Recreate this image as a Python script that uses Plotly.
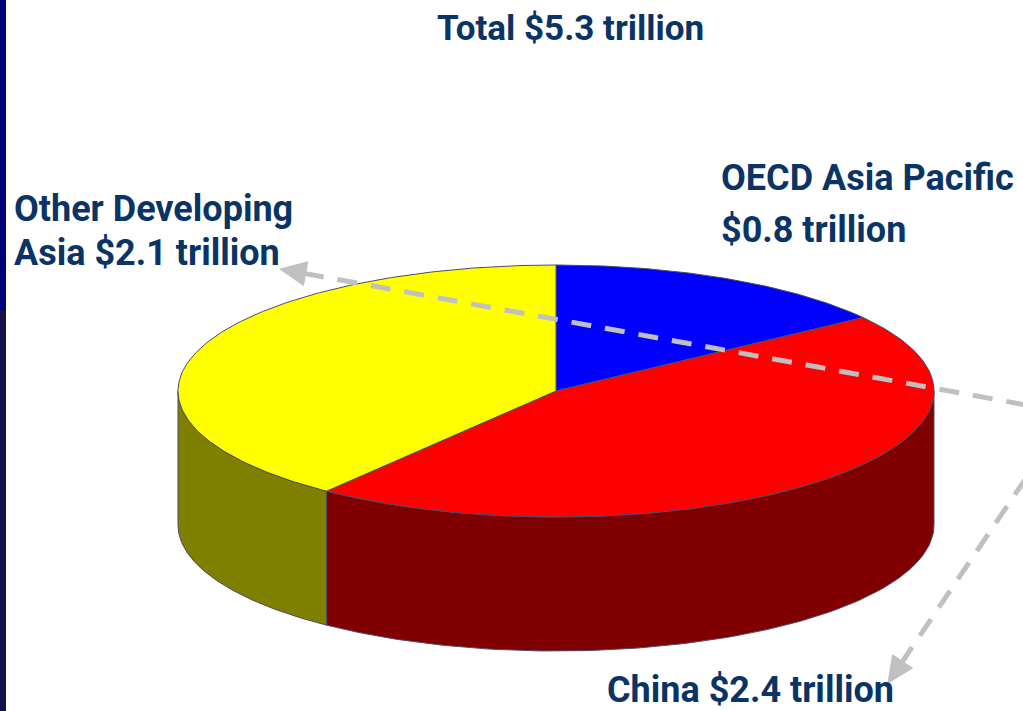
import numpy as np
import plotly.graph_objects as go

# Regional totals (trillion USD)
regions = ["OECD Asia Pacific", "China", "Other Developing Asia"]
values = [0.8, 2.4, 2.1]
total_label = "Total $5.3 trillion"

top_colors = ["#0000FF", "#FF0000", "#FFFF00"]
side_colors = ["#000080", "#800000", "#808000"]

W, H = 1023, 711
# Pie geometry in page pixels (y grows downward)
cx, cy = 556, 391
rx, ry = 378, 126
depth = 134
edge = "#4b4b6b"
text_color = "#0a3366"
font_family = "Roboto, Liberation Sans, Arial"


def pt(theta_deg, dy=0.0):
    t = np.radians(theta_deg)
    return cx + rx * np.sin(t), cy - ry * np.cos(t) + dy


fig = go.Figure()

fracs = np.array(values) / sum(values)
bounds = np.concatenate([[0], np.cumsum(fracs) * 360])

# Side walls (only the front half, 90..270 deg, is visible)
for i in range(len(values)):
    a0, a1 = max(bounds[i], 90), min(bounds[i + 1], 270)
    if a1 <= a0:
        continue
    th = np.linspace(a0, a1, 120)
    xs_top, ys_top = pt(th)
    xs_bot, ys_bot = pt(th[::-1], depth)
    xs = np.concatenate([xs_top, xs_bot, [xs_top[0]]])
    ys = np.concatenate([ys_top, ys_bot, [ys_top[0]]])
    fig.add_trace(go.Scatter(x=xs, y=ys, mode="lines", fill="toself",
                             fillcolor=side_colors[i],
                             line=dict(color=edge, width=1),
                             hoverinfo="skip", showlegend=False))

# Top face slices
for i in range(len(values)):
    th = np.linspace(bounds[i], bounds[i + 1], 200)
    xa, ya = pt(th)
    xs = np.concatenate([[cx], xa, [cx]])
    ys = np.concatenate([[cy], ya, [cy]])
    fig.add_trace(go.Scatter(x=xs, y=ys, mode="lines", fill="toself",
                             fillcolor=top_colors[i],
                             line=dict(color=edge, width=1),
                             hoverinfo="skip", showlegend=False))

# Dashed leader arrows
arrows = [
    dict(start=(1026, 405), tip=(280, 269)),
    dict(start=(1026, 478), tip=(888, 683)),
]
head_len, head_half = 26, 12
for a in arrows:
    (x0, y0), (x1, y1) = a["start"], a["tip"]
    d = np.array([x1 - x0, y1 - y0], dtype=float)
    d /= np.hypot(*d)
    n = np.array([-d[1], d[0]])
    base = np.array([x1, y1]) - d * head_len
    fig.add_trace(go.Scatter(x=[x0, base[0]], y=[y0, base[1]], mode="lines",
                             line=dict(color="#c0c0c0", width=5, dash="20px,14px"),
                             hoverinfo="skip", showlegend=False))
    hx = [x1, base[0] + n[0] * head_half, base[0] - n[0] * head_half, x1]
    hy = [y1, base[1] + n[1] * head_half, base[1] - n[1] * head_half, y1]
    fig.add_trace(go.Scatter(x=hx, y=hy, mode="lines", fill="toself",
                             fillcolor="#c0c0c0", line=dict(color="#c0c0c0", width=1),
                             hoverinfo="skip", showlegend=False))

labels = [
    (total_label, 570, 28, "center", 35),
    ("OECD Asia Pacific", 719, 178, "left", 36),
    ("$0.8 trillion", 719, 230, "left", 36),
    ("Other Developing", 12, 209, "left", 36),
    ("Asia $2.1 trillion", 12, 253, "left", 36),
    ("China $2.4 trillion", 605, 690, "left", 36),
]
for text, x, y, anchor, size in labels:
    fig.add_annotation(x=x, y=y, text=f"<b>{text}</b>", showarrow=False,
                       xanchor=anchor, yanchor="middle",
                       font=dict(family=font_family, size=size, color=text_color))

# Navy strip on the left edge
fig.add_shape(type="rect", x0=0, x1=6, y0=0, y1=310, fillcolor="#00007a",
              line=dict(width=0), layer="above")
fig.add_shape(type="rect", x0=0, x1=6, y0=310, y1=H, fillcolor="#13104a",
              line=dict(width=0), layer="above")

fig.update_layout(
    width=W, height=H,
    margin=dict(l=0, r=0, t=0, b=0),
    paper_bgcolor="white", plot_bgcolor="white",
    xaxis=dict(range=[0, W], visible=False, fixedrange=True),
    yaxis=dict(range=[H, 0], visible=False, fixedrange=True),
)

fig.write_html("out.html")
